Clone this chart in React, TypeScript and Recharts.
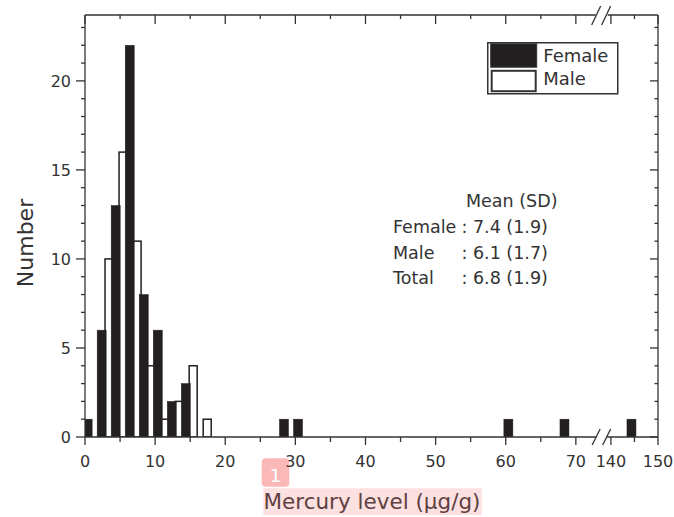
import React from 'react';
import { ComposedChart, Bar, XAxis, YAxis, Legend } from 'recharts';

// ---- data ----
// lower edge of each 2 µg/g bin and the count in it
const femaleBins = [0, 2, 4, 6, 8, 10, 12, 14, 28, 30, 60, 68, 144];
const femaleCounts = [1, 6, 13, 22, 8, 6, 2, 3, 1, 1, 1, 1, 1];
const maleBins = [2, 4, 6, 8, 10, 12, 14, 16];
const maleCounts = [10, 16, 11, 4, 1, 2, 4, 1];

const seriesNames = ['Female', 'Male'];

const xTickValues = [0, 5, 10, 15, 20, 25, 30, 35, 40, 45, 50, 55, 60, 65, 70, 140, 145, 150];
const xTickLabels = ['0', '', '10', '', '20', '', '30', '', '40', '', '50', '', '60', '', '70', '140', '', '150'];
const yTickValues = [0, 1, 2, 3, 4, 5, 6, 7, 8, 9, 10, 11, 12, 13, 14, 15, 16, 17, 18, 19, 20, 21, 22, 23];
const yTickLabels = ['0', '', '', '', '', '5', '', '', '', '', '10', '', '', '', '', '15', '', '', '', '', '20', '', '', ''];

const statTitle = 'Mean (SD)';
const statGroups = ['Female', 'Male', 'Total'];
const statValues = [': 7.4 (1.9)', ': 6.1 (1.7)', ': 6.8 (1.9)'];

const xTitle = 'Mercury level (μg/g)';
const yTitle = 'Number';

// ---- broken x axis mapping ----
const LOW_END = 70;
const HIGH_START = 140;
const HIGH_START_D = 75;
const HIGH_COMPRESS = 0.6714;
const toDisplay = (v: number) => (v <= LOW_END ? v : HIGH_START_D + (v - HIGH_START) * HIGH_COMPRESS);
const BREAK_D = 73.68;
const X_MAX_D = toDisplay(150);
const Y_MAX = 23.7;

// position of each series' bar inside its bin
const FEMALE_OFFSET = 0.4;
const MALE_OFFSET = 1.45;

const rows = [
  ...femaleBins.map((b, i) => ({ x: toDisplay(b + FEMALE_OFFSET), female: femaleCounts[i], male: 0 })),
  ...maleBins.map((b, i) => ({ x: toDisplay(b + MALE_OFFSET), female: 0, male: maleCounts[i] })),
].sort((a, b) => a.x - b.x);

const xTickDisplay = [...xTickValues.map(toDisplay), BREAK_D];

// ---- styles ----
const FONT = 'DejaVu Sans';
const INK = '#333';
const FEMALE_FILL = '#231f20';
const AXIS_W = 1.3;

const labelForX = (v: number) => {
  const i = xTickValues.findIndex((t) => Math.abs(toDisplay(t) - v) < 1e-6);
  return i < 0 ? null : xTickLabels[i];
};
const isBreak = (v: number) => Math.abs(v - BREAK_D) < 1e-6;

const makeShape = (w: number, fill: string, stroke: string, sw: number) => (props: any) => {
  const { x, y, width, height } = props;
  if (!height || height <= 0 || !isFinite(x)) return <g />;
  const cx = x + width / 2;
  return <rect x={cx - w / 2} y={y} width={w} height={height} fill={fill} stroke={stroke} strokeWidth={sw} />;
};
const femaleShape = makeShape(9, FEMALE_FILL, FEMALE_FILL, 0.5);
const maleShape = makeShape(8, '#fff', FEMALE_FILL, 1.5);

const BottomTick = (props: any) => {
  const { x, y, payload } = props;
  const v = payload.value;
  if (isBreak(v)) {
    return (
      <g>
        <rect x={x - 5.5} y={y - 3} width={11} height={6} fill="#fff" />
        <line x1={x - 9.5} y1={y + 8} x2={x - 1.5} y2={y - 8} stroke={INK} strokeWidth={AXIS_W} />
        <line x1={x + 1} y1={y + 8} x2={x + 9} y2={y - 8} stroke={INK} strokeWidth={AXIS_W} />
      </g>
    );
  }
  const label = labelForX(v);
  const major = !!label;
  return (
    <g>
      <line x1={x} y1={y} x2={x} y2={y + (major ? 8 : 5)} stroke={INK} strokeWidth={AXIS_W} />
      {major && (
        <text x={x} y={y + 30} textAnchor="middle" fontFamily={FONT} fontSize={16} fill={INK}>
          {label}
        </text>
      )}
    </g>
  );
};

const TopTick = (props: any) => {
  const { x, y, payload } = props;
  const v = payload.value;
  if (isBreak(v)) {
    return (
      <g>
        <rect x={x - 6} y={y - 3} width={12} height={6} fill="#fff" />
        <line x1={x - 10} y1={y + 10} x2={x - 1} y2={y - 9} stroke={INK} strokeWidth={AXIS_W} />
        <line x1={x} y1={y + 10} x2={x + 9} y2={y - 9} stroke={INK} strokeWidth={AXIS_W} />
      </g>
    );
  }
  const major = !!labelForX(v);
  return <line x1={x} y1={y} x2={x} y2={y + (major ? 9 : 4)} stroke={INK} strokeWidth={AXIS_W} />;
};

const LeftTick = (props: any) => {
  const { x, y, payload } = props;
  const i = yTickValues.indexOf(payload.value);
  const label = i >= 0 ? yTickLabels[i] : '';
  const major = !!label;
  return (
    <g>
      <line x1={x - (major ? 9 : 4)} y1={y} x2={x} y2={y} stroke={INK} strokeWidth={AXIS_W} />
      {major && (
        <text x={x - 14} y={y} dy="0.36em" textAnchor="end" fontFamily={FONT} fontSize={16} fill={INK}>
          {label}
        </text>
      )}
    </g>
  );
};

const RightTick = (props: any) => {
  const { x, y, payload } = props;
  const i = yTickValues.indexOf(payload.value);
  const major = i >= 0 && !!yTickLabels[i];
  return <line x1={x - (major ? 8 : 3.5)} y1={y} x2={x} y2={y} stroke={INK} strokeWidth={AXIS_W} />;
};

const YTitle = () => (
  <text x={33} y={243} transform="rotate(-90, 33, 243)" textAnchor="middle" fontFamily={FONT} fontSize={22} fill={INK}>
    {yTitle}
  </text>
);

const XTitle = () => (
  <g>
    <text x={372} y={509} textAnchor="middle" fontFamily={FONT} fontSize={21.5} fill={INK}>
      {xTitle}
    </text>
    <rect x={263.3} y={488.3} width={218.4} height={26.7} fill="rgba(248,113,113,0.22)" />
    <rect x={261.7} y={458.3} width={27.6} height={28.4} rx={4} fill="rgba(248,113,113,0.5)" />
    <text x={275.5} y={482} textAnchor="middle" fontFamily={FONT} fontSize={18} fill="#fff">
      1
    </text>
  </g>
);

const LegendBox = () => (
  <svg width={132} height={53} style={{ display: 'block' }}>
    <rect x={0.75} y={0.75} width={130} height={51} fill="#fff" stroke={INK} strokeWidth={1.5} />
    <rect x={3.7} y={1.8} width={46} height={23.4} fill={FEMALE_FILL} stroke={INK} strokeWidth={1} />
    <rect x={4.7} y={28.8} width={44} height={20.4} fill="#fff" stroke={INK} strokeWidth={2} />
    <text x={56.3} y={20.2} fontFamily={FONT} fontSize={18} fill={INK}>
      {seriesNames[0]}
    </text>
    <text x={56.3} y={42.8} fontFamily={FONT} fontSize={18} fill={INK}>
      {seriesNames[1]}
    </text>
  </svg>
);

const StatsBlock = () => (
  <g fontFamily={FONT} fontSize={17.5} fill={INK}>
    <text x={466} y={207}>{statTitle}</text>
    {statGroups.map((g, i) => (
      <g key={g}>
        <text x={393} y={233 + i * 25.5}>{g}</text>
        <text x={461.5} y={233 + i * 25.5}>{statValues[i]}</text>
      </g>
    ))}
  </g>
);

export default function App() {
  return (
    <div style={{ position: 'absolute', left: 0, top: 0, background: '#fff' }}>
      <ComposedChart width={674} height={517} data={rows} margin={{ top: 14, right: 15, bottom: 0, left: 0 }}>
        <XAxis
          xAxisId="bottom"
          type="number"
          dataKey="x"
          domain={[0, X_MAX_D]}
          allowDataOverflow
          ticks={xTickDisplay}
          interval={0}
          tickSize={0}
          tickMargin={0}
          tickLine={false}
          tick={BottomTick}
          height={80}
          axisLine={{ stroke: INK, strokeWidth: AXIS_W }}
          label={{ content: XTitle }}
        />
        <XAxis
          xAxisId="top"
          orientation="top"
          type="number"
          dataKey="x"
          domain={[0, X_MAX_D]}
          allowDataOverflow
          ticks={xTickDisplay}
          interval={0}
          tickSize={0}
          tickMargin={0}
          tickLine={false}
          tick={TopTick}
          height={1}
          axisLine={{ stroke: INK, strokeWidth: AXIS_W }}
        />
        <YAxis
          yAxisId="left"
          type="number"
          domain={[0, Y_MAX]}
          allowDataOverflow
          ticks={yTickValues}
          interval={0}
          tickSize={0}
          tickMargin={0}
          tickLine={false}
          tick={LeftTick}
          width={85}
          axisLine={{ stroke: INK, strokeWidth: AXIS_W }}
          label={{ content: YTitle }}
        />
        <YAxis
          yAxisId="right"
          orientation="right"
          type="number"
          domain={[0, Y_MAX]}
          allowDataOverflow
          ticks={yTickValues}
          interval={0}
          tickSize={0}
          tickMargin={0}
          tickLine={false}
          tick={RightTick}
          width={1}
          axisLine={{ stroke: INK, strokeWidth: AXIS_W }}
        />
        <Bar
          dataKey="male"
          name={seriesNames[1]}
          xAxisId="top"
          yAxisId="left"
          isAnimationActive={false}
          shape={maleShape}
        />
        <Bar
          dataKey="female"
          name={seriesNames[0]}
          xAxisId="bottom"
          yAxisId="left"
          isAnimationActive={false}
          shape={femaleShape}
        />
        <Legend
          layout="horizontal"
          verticalAlign="middle"
          align="center"
          content={LegendBox}
          wrapperStyle={{ left: 487, top: 41.5, width: 132, height: 53 }}
        />
        <StatsBlock />
      </ComposedChart>
    </div>
  );
}
